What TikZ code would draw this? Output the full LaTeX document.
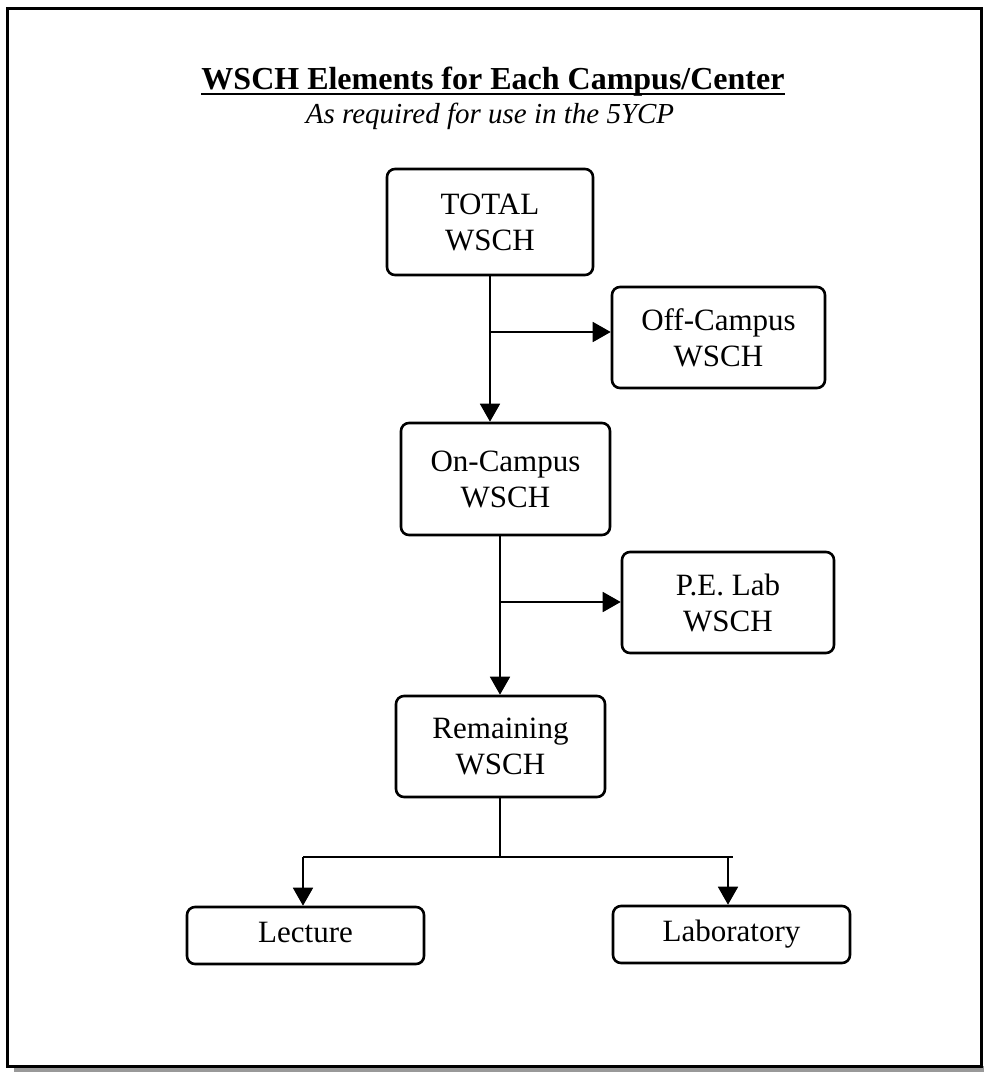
\documentclass[tikz,border=0pt]{standalone}
\usepackage{fontspec}
\setmainfont{Liberation Serif}
\usetikzlibrary{arrows.meta}
\begin{document}
\begin{tikzpicture}[x=1pt,y=-1pt,
  box/.style={draw, line width=2.6pt, rounded corners=8pt, inner sep=0pt, align=center,
    font=\fontsize{31}{36}\selectfont},
  onebox/.style={box, text height=21pt, text depth=7pt},
  conn/.style={line width=1.8pt},
  arr/.style={conn, -{Triangle[length=18pt,width=20pt]}}]
\useasboundingbox (0,0) rectangle (986,1074);
% outer frame with shadow
\fill[gray!80] (14,1066) rectangle (984,1072);
\draw[line width=3pt] (7,8) rectangle (981,1066);
% titles
\node[anchor=base, inner sep=0pt, font=\fontsize{32}{36}\selectfont\bfseries] (title) at (493,89) {WSCH Elements for Each Campus/Center};
\draw[line width=2.4pt] ([yshift=-5pt]title.base west) -- ([yshift=-5pt]title.base east);
\node[anchor=base, inner sep=0pt, font=\fontsize{29}{33}\selectfont\itshape] (sub) at (490,123) {As required for use in the 5YCP};
% boxes
\node[box, minimum width=206pt, minimum height=106pt] (total) at (490,222) {TOTAL\\WSCH};
\node[box, minimum width=213pt, minimum height=101pt] (off) at (718.5,337.5) {Off-Campus\\WSCH};
\node[box, minimum width=209pt, minimum height=112pt] (on) at (505.5,479) {On-Campus\\WSCH};
\node[box, minimum width=212pt, minimum height=101pt] (pe) at (728,602.5) {P.E. Lab\\WSCH};
\node[box, minimum width=209pt, minimum height=101pt] (rem) at (500.5,746.5) {Remaining\\WSCH};
\node[onebox, minimum width=237pt, minimum height=57pt] (lec) at (305.5,935.5) {Lecture};
\node[onebox, minimum width=237pt, minimum height=57pt] (lab) at (731.5,934.5) {Laboratory};
% connectors
\coordinate (j1) at (490,332);
\coordinate (j2) at (500,602);
\coordinate (j3) at (500,857);
\coordinate (lj) at (303,857);
\coordinate (rj) at (728,857);
\draw[arr] (total.south -| j1) -- (j1 |- on.north);
\draw[arr] (j1) -- (j1 -| off.west);
\draw[arr] (on.south -| j2) -- (j2 |- rem.north);
\draw[arr] (j2) -- (j2 -| pe.west);
\draw[conn] (rem.south -| j3) -- (j3);
\draw[conn] (lj) -- ([xshift=5pt]rj);
\draw[arr] (lj) -- (lj |- lec.north);
\draw[arr] (rj) -- (rj |- lab.north);
\end{tikzpicture}
\end{document}
